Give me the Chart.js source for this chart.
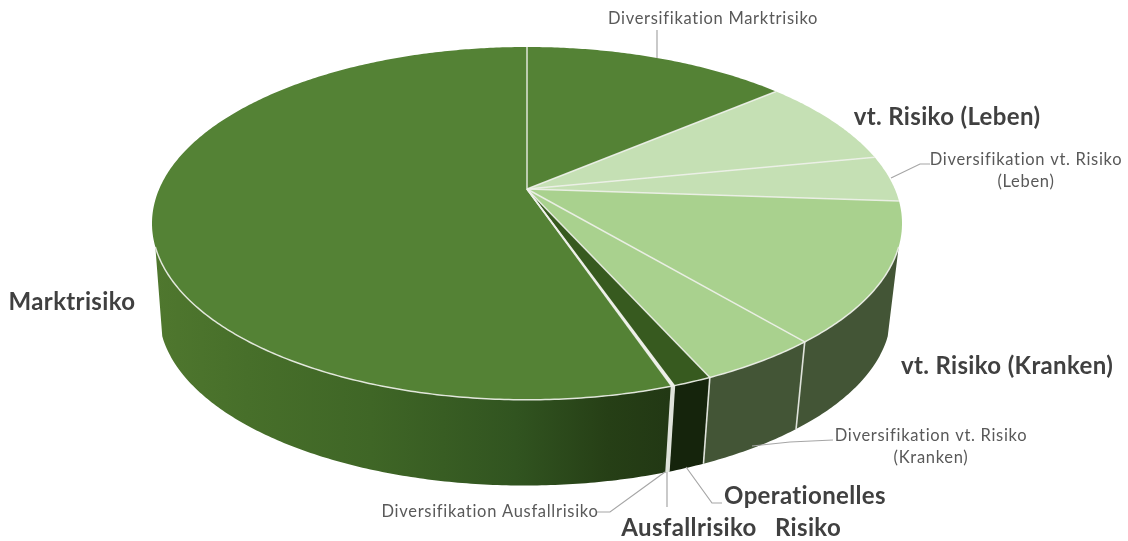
<!DOCTYPE html>
<html>
<head>
<meta charset="utf-8">
<title>Risikoprofil</title>
<script src="https://cdn.jsdelivr.net/npm/chart.js@4"></script>
<style>
  html, body { margin: 0; padding: 0; background: #fff; }
  canvas { display: block; }
</style>
</head>
<body>
<canvas id="riskChart" width="1128" height="541"></canvas>
<script>
// Values are shares in percent
const categories = [
    'Diversifikation Marktrisiko',
    'vt. Risiko (Leben)',
    'Diversifikation vt. Risiko (Leben)',
    'vt. Risiko (Kranken)',
    'Diversifikation vt. Risiko (Kranken)',
    'Operationelles Risiko',
    'Ausfallrisiko',
    'Diversifikation Ausfallrisiko',
    'Marktrisiko'
];
const shares = [13.8, 8.1, 4.2, 12.8, 4.4, 1.4, 0.06, 0.05, 55.19];
const topColors = ['#548235', '#c5e0b4', '#c5e0b4', '#a9d18e', '#a9d18e', '#375a1f', '#e8ece4', '#e8ece4', '#548235'];
const wallColors = ['#3f6426', '#6f8a60', '#6f8a60', '#435536', '#435536', '#15240c', '#d8dcd4', '#d8dcd4', null];

// Perspective of the disc: apex on screen and how it gets squeezed towards the back
const persp = { cx: 527, cy: 189, b: 367.8, a: 169.7, k: 0.195 };
const floor = { cx: 525, cy: 279.8, scale: 0.976 };
const rimStart = Math.asin(0.32); // wall and white rim only show below this

function topPoint(angle) {
    const X = Math.cos(angle), Y = Math.sin(angle), w = 1 - persp.k * Y;
    return [persp.cx + persp.b * X / w, persp.cy + persp.a * Y / w];
}
function bottomPoint(angle) {
    const X = Math.cos(angle), Y = Math.sin(angle), w = 1 - persp.k * Y;
    return [floor.cx + floor.scale * persp.b * X / w, floor.cy + floor.scale * persp.a * Y / w];
}
function angleSteps(from, to) {
    const n = Math.max(1, Math.ceil((to - from) / 0.01));
    const out = [];
    for (let s = 0; s <= n; s++) out.push(from + (to - from) * s / n);
    return out;
}

// Big slice wall shading, runs left to right
function marketGradient(ctx) {
    const g = ctx.createLinearGradient(155, 0, 670, 0);
    g.addColorStop(0, '#4f772e');
    g.addColorStop(0.18, '#476f2a');
    g.addColorStop(0.42, '#3f6626');
    g.addColorStop(0.7, '#315420');
    g.addColorStop(0.88, '#263f16');
    g.addColorStop(1, '#223814');
    return g;
}

// Labels and leader lines
const boldLabels = [
    { lines: ['Marktrisiko'], x: 72, y: 302 },
    { lines: ['vt. Risiko (Leben)'], x: 947, y: 117 },
    { lines: ['vt. Risiko (Kranken)'], x: 1007, y: 366 },
    { lines: ['Operationelles', 'Risiko'], x: 805, y: 496, gap: 32, shift: 3 },
    { lines: ['Ausfallrisiko'], x: 689, y: 528 }
];
const thinLabels = [
    { lines: ['Diversifikation Marktrisiko'], x: 713, y: 19 },
    { lines: ['Diversifikation vt. Risiko', '(Leben)'], x: 1026, y: 160, gap: 22 },
    { lines: ['Diversifikation vt. Risiko', '(Kranken)'], x: 931, y: 436, gap: 22 },
    { lines: ['Diversifikation Ausfallrisiko'], x: 490, y: 512 }
];
const leaders = [
    [[657, 58], [657, 30]],
    [[891, 178], [920, 164], [930, 164]],
    [[752, 446], [790, 442], [833, 440]],
    [[686, 467], [712, 503], [722, 503]],
    [[667, 472], [667, 507]],
    [[665, 472], [610, 512], [597, 512]]
];

const piePerspective = {
    id: 'piePerspective',
    beforeDatasetDraw(chart) {
        const ctx = chart.ctx;
        const arcs = chart.getDatasetMeta(0).data;
        ctx.save();

        // walls, only the front part of the ring
        const market = marketGradient(ctx);
        arcs.forEach((arc, i) => {
            const from = Math.max(arc.startAngle, rimStart);
            const to = Math.min(arc.endAngle, Math.PI - rimStart);
            if (to <= from) return;
            const angles = angleSteps(from, to);
            ctx.beginPath();
            angles.forEach((a, n) => {
                const p = topPoint(a);
                n ? ctx.lineTo(p[0], p[1]) : ctx.moveTo(p[0], p[1]);
            });
            angles.slice().reverse().forEach(a => {
                const p = bottomPoint(a);
                ctx.lineTo(p[0], p[1]);
            });
            ctx.closePath();
            ctx.fillStyle = wallColors[i] || market;
            ctx.fill();
        });

        // edges between the slices on the wall
        arcs.forEach(arc => {
            if (arc.endAngle < rimStart || arc.endAngle > Math.PI - rimStart) return;
            const t = topPoint(arc.endAngle), b = bottomPoint(arc.endAngle);
            ctx.strokeStyle = '#dfe3db';
            ctx.lineWidth = 1.6;
            ctx.beginPath();
            ctx.moveTo(t[0], t[1]);
            ctx.lineTo(b[0], b[1]);
            ctx.stroke();
        });

        // top face
        arcs.forEach((arc, i) => {
            ctx.beginPath();
            ctx.moveTo(persp.cx, persp.cy);
            angleSteps(arc.startAngle, arc.endAngle).forEach(a => {
                const p = topPoint(a);
                ctx.lineTo(p[0], p[1]);
            });
            ctx.closePath();
            ctx.fillStyle = topColors[i];
            ctx.fill();
        });

        // spokes and the bright front rim
        ctx.strokeStyle = 'rgba(238,241,234,0.9)';
        ctx.lineWidth = 1.5;
        arcs.forEach(arc => {
            const p = topPoint(arc.startAngle);
            ctx.beginPath();
            ctx.moveTo(persp.cx, persp.cy);
            ctx.lineTo(p[0], p[1]);
            ctx.stroke();
        });
        ctx.beginPath();
        angleSteps(rimStart, Math.PI - rimStart).forEach((a, n) => {
            const p = topPoint(a);
            n ? ctx.lineTo(p[0], p[1]) : ctx.moveTo(p[0], p[1]);
        });
        ctx.stroke();
        ctx.restore();

        drawLabels(ctx);
        return false; // arcs are already painted, skip the flat pie
    }
};

function drawLabels(ctx) {
    ctx.save();
    ctx.strokeStyle = '#a6a6a6';
    ctx.lineWidth = 1.2;
    leaders.forEach(line => {
        ctx.beginPath();
        line.forEach((p, n) => n ? ctx.lineTo(p[0], p[1]) : ctx.moveTo(p[0], p[1]));
        ctx.stroke();
    });
    ctx.textAlign = 'center';
    ctx.textBaseline = 'middle';
    ctx.fillStyle = '#404040';
    ctx.font = 'bold 24px Lato';
    ctx.letterSpacing = '0.35px';
    boldLabels.forEach(l => l.lines.forEach((t, n) => ctx.fillText(t, l.x + n * (l.shift || 0), l.y + n * (l.gap || 0))));
    ctx.fillStyle = '#595959';
    ctx.font = '16.5px Lato';
    ctx.letterSpacing = '0.7px';
    thinLabels.forEach(l => l.lines.forEach((t, n) => ctx.fillText(t, l.x, l.y + n * (l.gap || 0))));
    ctx.restore();
}

new Chart(document.getElementById('riskChart').getContext('2d'), {
    type: 'pie',
    data: {
        labels: categories,
        datasets: [{ data: shares, backgroundColor: topColors, borderWidth: 0 }]
    },
    options: {
        responsive: false,
        animation: false,
        plugins: { legend: { display: false }, tooltip: { enabled: false } }
    },
    plugins: [piePerspective]
});
</script>
</body>
</html>
